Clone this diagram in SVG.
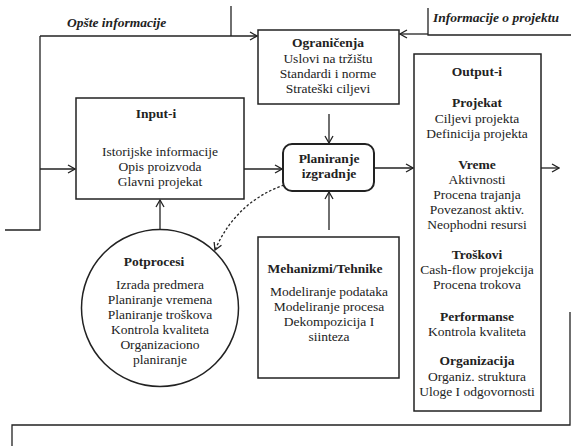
<svg xmlns="http://www.w3.org/2000/svg" width="571" height="446" viewBox="0 0 571 446">
<style>
text{font-family:"Liberation Serif","Times New Roman",serif;font-size:13.5px;fill:#222;text-anchor:middle}
.b{font-weight:bold}
.bi{font-weight:bold;font-style:italic;text-anchor:start}
.box{fill:#fff;stroke:#222;stroke-width:1.5}
.ln{fill:none;stroke:#222;stroke-width:1.3}
.ar{marker-end:url(#ah)}
</style>
<defs>
<marker id="ah" markerWidth="10" markerHeight="10" refX="9" refY="5" orient="auto" markerUnits="userSpaceOnUse">
<path d="M2,1 L9,5 L2,9" fill="none" stroke="#222" stroke-width="1.3"/>
</marker>
</defs>
<g id="connectors">
<path class="ln" d="M231,6 V36"/>
<path class="ln" d="M5,230 H40 V36"/>
<path class="ln ar" d="M40,36 H257"/>
<path class="ln ar" d="M40,169 H75"/>
<path class="ln" d="M428,8 V35 H571"/>
<path class="ln ar" d="M428,34 H400"/>
<path class="ln ar" d="M244,169 H282"/>
<path class="ln ar" d="M374,168 H413"/>
<path class="ln ar" d="M541,168 H559"/>
<path class="ln ar" d="M329,114 V143"/>
<path class="ln ar" d="M329,230 V192"/>
<path class="ln ar" d="M160,229 V200"/>
<path class="ln ar" d="M284,185 Q236,202 215,250" stroke-dasharray="2.5,2"/>
<path class="ln" d="M12,446 V425 H570 V312" stroke="#444"/>
</g>
<g id="labels">
<text class="bi" x="67" y="27">Opšte informacije</text>
<text class="bi" x="433" y="22">Informacije o projektu</text>
</g>
<g id="ogranicenja">
<rect class="box" x="258" y="30" width="141" height="74"/>
<text class="b" x="328" y="47">Ograničenja</text>
<text x="328" y="63">Uslovi na tržištu</text>
<text x="328" y="78">Standardi i norme</text>
<text x="328" y="93">Strateški ciljevi</text>
</g>
<g id="input">
<rect class="box" x="76" y="98" width="168" height="101"/>
<text class="b" x="156" y="118">Input-i</text>
<text x="160" y="156">Istorijske informacije</text>
<text x="160" y="171">Opis proizvoda</text>
<text x="160" y="186">Glavni projekat</text>
</g>
<g id="planiranje">
<rect x="283" y="144" width="91" height="47" rx="9" fill="#fff" stroke="#222" stroke-width="2"/>
<text class="b" x="329" y="163">Planiranje</text>
<text class="b" x="329" y="178">izgradnje</text>
</g>
<g id="output">
<rect class="box" x="414" y="54" width="127" height="357"/>
<text class="b" x="477" y="76">Output-i</text>
<text class="b" x="477" y="107">Projekat</text>
<text x="477" y="122.5">Ciljevi projekta</text>
<text x="477" y="138">Definicija projekta</text>
<text class="b" x="477" y="169">Vreme</text>
<text x="477" y="184">Aktivnosti</text>
<text x="477" y="199">Procena trajanja</text>
<text x="477" y="214">Povezanost aktiv.</text>
<text x="477" y="229">Neophodni resursi</text>
<text class="b" x="477" y="259">Troškovi</text>
<text x="477" y="274">Cash-flow projekcija</text>
<text x="477" y="289">Procena trokova</text>
<text class="b" x="477" y="321">Performanse</text>
<text x="477" y="336">Kontrola kvaliteta</text>
<text class="b" x="477" y="365">Organizacija</text>
<text x="477" y="380.5">Organiz. struktura</text>
<text x="477" y="396">Uloge I odgovornosti</text>
</g>
<g id="mehanizmi">
<rect class="box" x="258" y="237" width="141" height="141"/>
<text class="b" x="325" y="273">Mehanizmi/Tehnike</text>
<text x="329" y="296">Modeliranje podataka</text>
<text x="329" y="311">Modeliranje procesa</text>
<text x="329" y="326">Dekompozicija I</text>
<text x="329" y="341">siinteza</text>
</g>
<g id="potprocesi">
<circle cx="160" cy="308" r="78.5" fill="#fff" stroke="#222" stroke-width="1.5"/>
<text class="b" x="154" y="266">Potprocesi</text>
<text x="160" y="289">Izrada predmera</text>
<text x="160" y="304">Planiranje vremena</text>
<text x="160" y="319">Planiranje troškova</text>
<text x="160" y="334">Kontrola kvaliteta</text>
<text x="160" y="349">Organizaciono</text>
<text x="160" y="364">planiranje</text>
</g>
</svg>
